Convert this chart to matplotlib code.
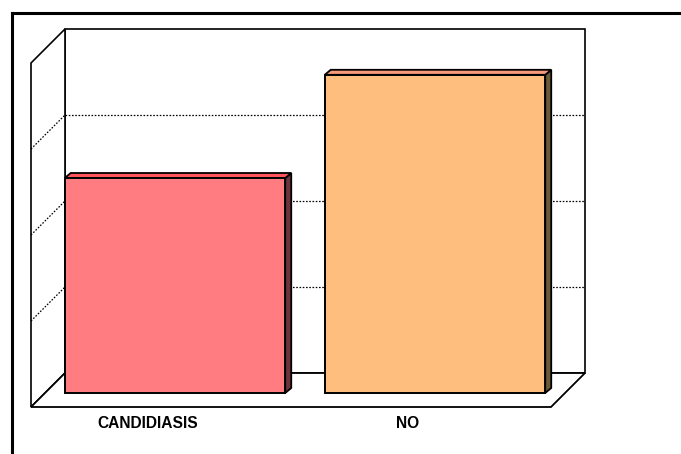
import matplotlib
matplotlib.use("Agg")
import matplotlib.pyplot as plt
from matplotlib.patches import Polygon
from matplotlib.lines import Line2D

# Data
categories = ["CANDIDIASIS", "NO"]
values = [25, 37]
y_max = 40
grid_step = 10

front_colors = ["#FF7C80", "#FDBE7E"]
top_colors = ["#FF555B", "#F79A7C"]
side_colors = ["#6E343A", "#6B5A36"]

W, H, DPI = 681, 454, 100
fig = plt.figure(figsize=(W / DPI, H / DPI), dpi=DPI)
fig.patch.set_facecolor("white")

# Axes spanning the plane in which the bar fronts sit
ax_left, ax_right, ax_bottom, ax_top = 45, 565, 393, 49
ax = fig.add_axes([ax_left / W, (H - ax_bottom) / H,
                   (ax_right - ax_left) / W, (ax_bottom - ax_top) / H])
n = len(categories)
ax.set_xlim(-0.5, n - 0.5)
ax.set_ylim(0, y_max)
ax.axis("off")

# pixel -> data unit conversion for the 3-D depth offsets
px_x = n / (ax_right - ax_left)
px_y = y_max / (ax_bottom - ax_top)


def shift(pts, dx, dy):
    return [(x + dx * px_x, y + dy * px_y) for x, y in pts]


back = (20, 20)     # back wall offset (px, right/up)
front = (-14, -14)  # front edge of the floor
depth = (6, 5)      # bar depth

x0, x1 = -0.5, n - 0.5
edge_kw = dict(clip_on=False, joinstyle="miter")

# back wall
ax.add_patch(Polygon(shift([(x0, 0), (x1, 0), (x1, y_max), (x0, y_max)], *back),
                     facecolor="white", edgecolor="black", lw=1.2, zorder=1, **edge_kw))
# left side wall
lw_pts = shift([(x0, 0), (x0, y_max)], *front) + shift([(x0, y_max), (x0, 0)], *back)
ax.add_patch(Polygon(lw_pts, facecolor="white", edgecolor="black", lw=1.2, zorder=1, **edge_kw))
# floor
fl_pts = shift([(x0, 0), (x1, 0)], *front) + shift([(x1, 0), (x0, 0)], *back)
ax.add_patch(Polygon(fl_pts, facecolor="white", edgecolor="black", lw=1.3, zorder=1, **edge_kw))

# gridlines on the back and side walls
for gv in range(grid_step, y_max, grid_step):
    (bx0, by0), (bx1, by1) = shift([(x0, gv), (x1, gv)], *back)
    ax.add_line(Line2D([bx0, bx1], [by0, by1], color="black", lw=0.9,
                       linestyle=(0, (1.3, 1.3)), zorder=2, clip_on=False))
    (fx, fy), = shift([(x0, gv)], *front)
    ax.add_line(Line2D([fx, bx0], [fy, by0], color="black", lw=0.9,
                       linestyle=(0, (1.3, 1.3)), zorder=2, clip_on=False))

# bars
bar_w = 0.848
for i, (cat, v) in enumerate(zip(categories, values)):
    a, b = i - bar_w / 2, i + bar_w / 2
    front_face = [(a, 0), (b, 0), (b, v), (a, v)]
    top_face = [(a, v), (b, v)] + shift([(b, v), (a, v)], *depth)
    side_face = [(b, 0), (b, v)] + shift([(b, v), (b, 0)], *depth)
    ax.add_patch(Polygon(side_face, facecolor=side_colors[i], edgecolor="black",
                         lw=1.3, zorder=3, **edge_kw))
    ax.add_patch(Polygon(top_face, facecolor=top_colors[i], edgecolor="black",
                         lw=1.3, zorder=3, **edge_kw))
    ax.add_patch(Polygon(front_face, facecolor=front_colors[i], edgecolor="black",
                         lw=1.4, zorder=4, **edge_kw))
    (lx, ly), = shift([(i, 0)], -27, -30)
    ax.text(lx, ly, cat, ha="center", va="center", fontsize=11.2,
            fontweight="bold", family="Liberation Sans", color="black")

# chart area border
fx0, fy0 = 12, 13
fig.add_artist(Line2D([fx0 / W, 1], [1 - fy0 / H, 1 - fy0 / H], color="black",
                      lw=2.2, transform=fig.transFigure, solid_capstyle="projecting"))
fig.add_artist(Line2D([fx0 / W, fx0 / W], [1 - fy0 / H, 0], color="black",
                      lw=2.2, transform=fig.transFigure, solid_capstyle="projecting"))

fig.savefig("out.png", dpi=DPI, facecolor="white")
